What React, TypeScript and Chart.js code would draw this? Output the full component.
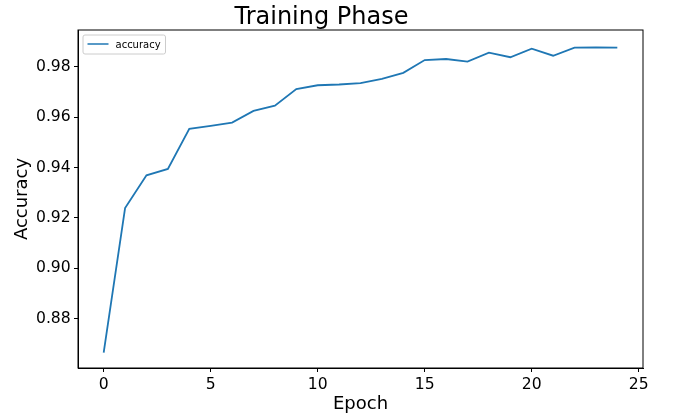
import React, { useEffect, useRef } from 'react';
import { Chart, registerables } from 'chart.js';

Chart.register(...registerables);

const epochs = [0, 1, 2, 3, 4, 5, 6, 7, 8, 9, 10, 11, 12, 13, 14, 15, 16, 17, 18, 19, 20, 21, 22, 23, 24];
const accuracy = [
  0.8666, 0.9239, 0.9369, 0.9394, 0.9553, 0.9565, 0.9578, 0.9624, 0.9645, 0.9711,
  0.9726, 0.9729, 0.9734, 0.9751, 0.9775, 0.9826, 0.9830, 0.9820, 0.9855, 0.9837,
  0.9871, 0.9843, 0.9875, 0.9876, 0.9875,
];
const xTicks = [0, 5, 10, 15, 20, 25];
const yTicks = [0.88, 0.9, 0.92, 0.94, 0.96, 0.98];

const FONT = 'DejaVu Sans';
const LINE_COLOR = '#1f77b4';

const framePlugin = {
  id: 'frame',
  afterDraw(chart: any) {
    const { ctx, chartArea } = chart;
    ctx.save();
    ctx.strokeStyle = '#000';
    ctx.lineWidth = 1;
    ctx.strokeRect(chartArea.left, chartArea.top, chartArea.right - chartArea.left, chartArea.bottom - chartArea.top);
    ctx.restore();
  },
};

const legendBoxPlugin = {
  id: 'legendBox',
  afterDraw(chart: any) {
    const { ctx, chartArea } = chart;
    const ds = chart.data.datasets[0];
    const x = chartArea.left + 5;
    const y = chartArea.top + 5;
    const w = 82.5;
    const h = 19;
    ctx.save();
    ctx.fillStyle = 'rgba(255,255,255,0.8)';
    ctx.strokeStyle = '#cccccc';
    ctx.lineWidth = 1;
    ctx.beginPath();
    const r = 2;
    ctx.moveTo(x + r, y);
    ctx.lineTo(x + w - r, y);
    ctx.quadraticCurveTo(x + w, y, x + w, y + r);
    ctx.lineTo(x + w, y + h - r);
    ctx.quadraticCurveTo(x + w, y + h, x + w - r, y + h);
    ctx.lineTo(x + r, y + h);
    ctx.quadraticCurveTo(x, y + h, x, y + h - r);
    ctx.lineTo(x, y + r);
    ctx.quadraticCurveTo(x, y, x + r, y);
    ctx.closePath();
    ctx.fill();
    ctx.stroke();
    ctx.strokeStyle = ds.borderColor;
    ctx.lineWidth = 1.5;
    ctx.beginPath();
    ctx.moveTo(x + 4.5, y + 9);
    ctx.lineTo(x + 25.5, y + 9);
    ctx.stroke();
    ctx.fillStyle = '#000';
    ctx.font = `10px "${FONT}"`;
    ctx.textBaseline = 'alphabetic';
    ctx.textAlign = 'left';
    ctx.fillText(ds.label, x + 32.5, y + 13);
    ctx.restore();
  },
};

export default function App() {
  const ref = useRef<HTMLCanvasElement | null>(null);

  useEffect(() => {
    document.body.style.margin = '0';
    const canvas = ref.current;
    if (!canvas) return;
    const chart = new Chart(canvas, {
      type: 'line',
      data: {
        datasets: [
          {
            label: 'accuracy',
            data: epochs.map((e, i) => ({ x: e, y: accuracy[i] })),
            borderColor: LINE_COLOR,
            backgroundColor: LINE_COLOR,
            borderWidth: 1.8,
            pointRadius: 0,
            tension: 0,
            fill: false,
          },
        ],
      },
      options: {
        animation: false,
        responsive: false,
        maintainAspectRatio: false,
        layout: { padding: { left: 0, right: 32, top: 0, bottom: 0 } },
        plugins: {
          legend: { display: false },
          tooltip: { enabled: false },
          title: {
            display: true,
            text: 'Training Phase',
            color: '#000',
            font: { family: FONT, size: 24, weight: 'normal', lineHeight: 1 },
            padding: { top: 5.5, bottom: 0.5 },
          },
        },
        scales: {
          x: {
            type: 'linear',
            min: -1.2,
            max: 25.2,
            afterBuildTicks: (s: any) => {
              s.ticks = xTicks.map((v) => ({ value: v }));
            },
            afterFit: (s: any) => {
              s.height = 47;
            },
            grid: { display: true, drawOnChartArea: false, drawTicks: true, tickLength: 4, color: '#000' },
            border: { display: true, color: '#000' },
            ticks: {
              color: '#000',
              font: { family: FONT, size: 15.6 },
              padding: 3.5,
              maxRotation: 0,
              autoSkip: false,
              callback: (v: any) => String(v),
            },
            title: {
              display: true,
              text: 'Epoch',
              color: '#000',
              font: { family: FONT, size: 18, lineHeight: 1.2 },
              padding: 0,
            },
          },
          y: {
            type: 'linear',
            min: 0.8605,
            max: 0.9945,
            afterBuildTicks: (s: any) => {
              s.ticks = yTicks.map((v) => ({ value: v }));
            },
            afterFit: (s: any) => {
              s.width = 78;
            },
            grid: { display: true, drawOnChartArea: false, drawTicks: true, tickLength: 4, color: '#000' },
            border: { display: true, color: '#000' },
            ticks: {
              color: '#000',
              font: { family: FONT, size: 15.6 },
              padding: 3.3,
              autoSkip: false,
              callback: (v: any) => Number(v).toFixed(2),
            },
            title: {
              display: true,
              text: 'Accuracy',
              color: '#000',
              font: { family: FONT, size: 18, lineHeight: 1.2 },
              padding: { top: 11.5, bottom: 0 },
            },
          },
        },
      },
      plugins: [framePlugin, legendBoxPlugin],
    });
    return () => chart.destroy();
  }, []);

  return (
    <div style={{ position: 'absolute', left: 0, top: 0, width: 675, height: 415, background: '#fff' }}>
      <canvas ref={ref} width={675} height={415} style={{ width: 675, height: 415, display: 'block' }} />
    </div>
  );
}
